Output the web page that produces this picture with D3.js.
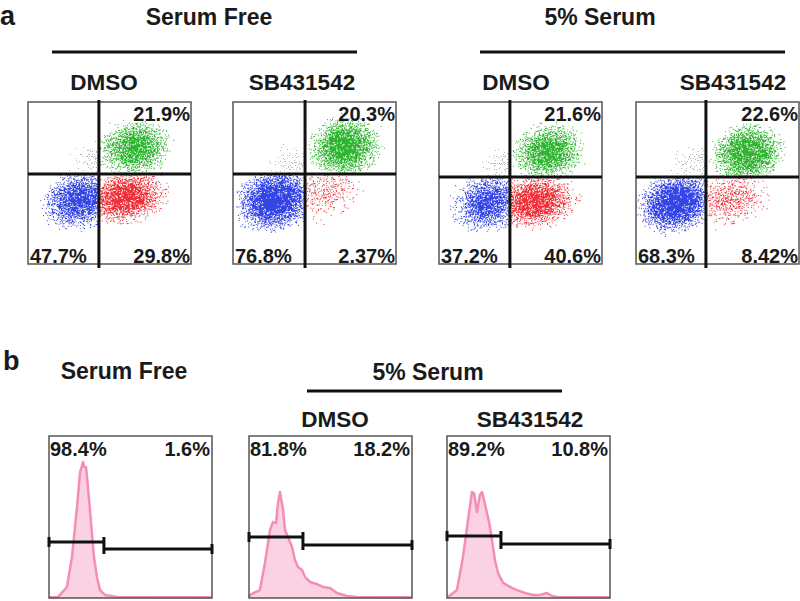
<!DOCTYPE html>
<html>
<head>
<meta charset="utf-8">
<script src="https://cdn.jsdelivr.net/npm/d3@7"></script>
<style>
  body { margin: 0; background: #fff; }
  text { font-family: "Liberation Sans", Arial, sans-serif; font-weight: bold; fill: #1a1a1a; }
</style>
</head>
<body>
<svg id="fig" width="800" height="601"></svg>
<script>
// ---- panel a: dot plots ----
const dotTitles = ["DMSO", "SB431542", "DMSO", "SB431542"];
const dotGroups = ["Serum Free", "5% Serum"];
const gateX = [435, 442, 435, 429];          // channel (0-1000)
const gateY = [556, 556, 537, 537];
const pctUR = ["21.9%", "20.3%", "21.6%", "22.6%"];
const pctLL = ["47.7%", "76.8%", "37.2%", "68.3%"];
const pctLR = ["29.8%", "2.37%", "40.6%", "8.42%"];

// populations: centre (x, y), spread (sx, sy), tilt, density
const greenPop = [
  { x: 656, y: 716, sx: 275, sy: 215, t: -12, d: 0.9 },
  { x: 687, y: 722, sx: 265, sy: 225, t: -12, d: 0.95 },
  { x: 669, y: 691, sx: 275, sy: 215, t: -12, d: 0.9 },
  { x: 687, y: 685, sx: 270, sy: 215, t: -12, d: 0.95 }
];
const bluePop = [
  { x: 319, y: 395, sx: 285, sy: 215, t: -18, d: 0.92 },
  { x: 258, y: 395, sx: 290, sy: 230, t: -18, d: 1.0 },
  { x: 301, y: 377, sx: 275, sy: 215, t: -18, d: 0.88 },
  { x: 245, y: 377, sx: 285, sy: 220, t: -18, d: 1.0 }
];
const redPop = [
  { x: 600, y: 414, sx: 310, sy: 200, t: -10, d: 0.92 },
  { x: 560, y: 440, sx: 330, sy: 230, t: -14, d: 0.62 },
  { x: 589, y: 383, sx: 310, sy: 200, t: -10, d: 0.92 },
  { x: 577, y: 405, sx: 320, sy: 220, t: -14, d: 0.68 }
];
const greyPop = [
  { x: 420, y: 640, sx: 260, sy: 180, t: 0, d: 0.55 },
  { x: 400, y: 620, sx: 260, sy: 180, t: 0, d: 0.55 },
  { x: 420, y: 620, sx: 260, sy: 180, t: 0, d: 0.55 },
  { x: 400, y: 620, sx: 260, sy: 180, t: 0, d: 0.55 }
];

// ---- panel b: histograms ----
const histTitles = ["", "DMSO", "SB431542"];
const histLeftPct = ["98.4%", "81.8%", "89.2%"];
const histRightPct = ["1.6%", "18.2%", "10.8%"];
const histGate = [337, 331, 331];
const histGateLeftY = [34.6, 37.7, 38.3];
const histGateRightY = [30.2, 32.7, 33.3];
const hist1X = [0, 55, 67, 110, 141, 172, 190, 209, 215, 227, 239, 258, 276, 294, 313, 344, 417, 1000];
const hist1Y = [0.5, 0.6, 1.9, 6.8, 25.3, 56.2, 77.2, 84, 80.9, 80.9, 68.5, 46.3, 25.3, 13, 4.9, 1.9, 0.6, 0.5];
const hist2X = [0, 6, 67, 98, 129, 147, 166, 178, 190, 209, 221, 239, 264, 282, 301, 325, 344, 374, 417, 454, 497, 540, 601, 663, 1000];
const hist2Y = [0.5, 1.9, 4.9, 21.6, 42, 46.9, 46.3, 58.6, 65.4, 54.3, 42, 37.7, 31.5, 23.5, 19.1, 17.3, 13, 9.9, 8.6, 6.8, 6.2, 3.1, 1.2, 0.6, 0.5];
const hist3X = [0, 6, 61, 98, 129, 153, 166, 184, 202, 215, 227, 245, 258, 276, 294, 313, 344, 387, 429, 479, 528, 571, 613, 644, 675, 1000];
const hist3Y = [0.5, 0.6, 4.9, 25.3, 48.1, 65.4, 64.8, 53.1, 63.6, 65.4, 60.5, 52.5, 46.9, 35.8, 23.5, 15.4, 9.3, 6.8, 4.9, 3.1, 1.9, 1.9, 3.1, 1.2, 0.6, 0.5];
const histX = [hist1X, hist2X, hist3X];
const histY = [hist1Y, hist2Y, hist3Y];

const svg = d3.select("#fig");
const defs = svg.append("defs");

const popColors = { green: "#30b530", blue: "#3546e6", red: "#ef3038", grey: "#b4baba" };

// speckle filter per colour: thresholds the population density against a noise texture
Object.entries(popColors).forEach(([k, c]) => {
  const f = defs.append("filter").attr("id", "speckle-" + k)
    .attr("x", "-10%").attr("y", "-10%").attr("width", "120%").attr("height", "120%")
    .attr("color-interpolation-filters", "sRGB");
  f.append("feTurbulence").attr("type", "fractalNoise").attr("baseFrequency", 0.85)
    .attr("numOctaves", 2).attr("seed", 7).attr("result", "noise");
  f.append("feColorMatrix").attr("in", "noise").attr("type", "matrix")
    .attr("values", "0 0 0 0 0  0 0 0 0 0  0 0 0 0 0  1 0 0 0 0").attr("result", "nA");
  f.append("feComposite").attr("in", "SourceAlpha").attr("in2", "nA").attr("operator", "arithmetic")
    .attr("k1", 0).attr("k2", 1).attr("k3", -1).attr("k4", 0.5).attr("result", "diff");
  f.append("feComponentTransfer").attr("in", "diff").attr("result", "mask")
    .append("feFuncA").attr("type", "discrete").attr("tableValues", "0 1");
  f.append("feFlood").attr("flood-color", c).attr("result", "solid");
  f.append("feComposite").attr("in", "solid").attr("in2", "mask").attr("operator", "in");

  const g = defs.append("radialGradient").attr("id", "grad-" + k);
  [[0, 0.72], [0.35, 0.63], [0.65, 0.47], [0.85, 0.33], [1, 0.15]].forEach(([o, a]) =>
    g.append("stop").attr("offset", o).attr("stop-color", "#000").attr("stop-opacity", a));
});

// title helper
function label(x, y, txt, size, anchor) {
  svg.append("text").attr("x", x).attr("y", y).attr("font-size", size)
    .attr("text-anchor", anchor || "middle").text(txt);
}

// ---- panel a layout ----
label(0, 25, "a", 27, "start");
label(209, 25, dotGroups[0], 23);
label(600, 25, dotGroups[1], 23);
svg.append("line").attr("x1", 52).attr("x2", 357).attr("y1", 52).attr("y2", 52)
  .attr("stroke", "#111").attr("stroke-width", 3);
svg.append("line").attr("x1", 480).attr("x2", 785).attr("y1", 52).attr("y2", 52)
  .attr("stroke", "#111").attr("stroke-width", 3);

const dotLeft = [28, 233, 439, 636];
const dotTitleX = [104, 302, 516, 733];
const dotTop = 102, dotW = 163, dotH = 162;

dotLeft.forEach((left, i) => {
  const x = d3.scaleLinear().domain([0, 1000]).range([left, left + dotW]);
  const y = d3.scaleLinear().domain([0, 1000]).range([dotTop + dotH, dotTop]);
  label(dotTitleX[i], 90, dotTitles[i], 22.5);

  const g = svg.append("g");
  // quadrant clip regions
  const quads = {
    grey: [0, gateX[i], gateY[i], 1000],
    green: [gateX[i], 1000, gateY[i], 1000],
    blue: [0, gateX[i], 0, gateY[i]],
    red: [gateX[i], 1000, 0, gateY[i]]
  };
  const pops = { grey: greyPop[i], green: greenPop[i], blue: bluePop[i], red: redPop[i] };
  Object.keys(quads).forEach(k => {
    const q = quads[k];
    const id = `clip-${i}-${k}`;
    defs.append("clipPath").attr("id", id).append("rect")
      .attr("x", x(q[0])).attr("width", x(q[1]) - x(q[0]))
      .attr("y", y(q[3])).attr("height", y(q[2]) - y(q[3]));
    const p = pops[k];
    const cx = x(p.x), cy = y(p.y);
    g.append("g").attr("clip-path", `url(#${id})`)
      .append("ellipse")
      .attr("cx", cx).attr("cy", cy)
      .attr("rx", x(p.sx) - x(0)).attr("ry", y(0) - y(p.sy))
      .attr("transform", `rotate(${p.t},${cx},${cy})`)
      .attr("fill", `url(#grad-${k})`)
      .attr("fill-opacity", p.d)
      .attr("filter", `url(#speckle-${k})`);
  });

  svg.append("rect").attr("x", left).attr("y", dotTop).attr("width", dotW).attr("height", dotH)
    .attr("fill", "none").attr("stroke", "#555").attr("stroke-width", 1.5);
  svg.append("line").attr("x1", x(gateX[i])).attr("x2", x(gateX[i]))
    .attr("y1", dotTop - 2).attr("y2", dotTop + dotH + 4)
    .attr("stroke", "#111").attr("stroke-width", 3);
  svg.append("line").attr("x1", left).attr("x2", left + dotW)
    .attr("y1", y(gateY[i])).attr("y2", y(gateY[i]))
    .attr("stroke", "#111").attr("stroke-width", 3);

  label(left + dotW - 1, dotTop + 19, pctUR[i], 20, "end");
  label(left + 2, dotTop + dotH - 1, pctLL[i], 20, "start");
  label(left + dotW - 1, dotTop + dotH - 1, pctLR[i], 20, "end");
});

// ---- panel b layout ----
label(3, 370, "b", 27, "start");
label(124, 379, "Serum Free", 23);
label(428, 380, "5% Serum", 23);
svg.append("line").attr("x1", 307).attr("x2", 562).attr("y1", 391).attr("y2", 391)
  .attr("stroke", "#111").attr("stroke-width", 3);

const histLeft = [49, 249, 447];
const histTitleX = [124, 335, 530];
const histTop = 436, histW = 163, histH = 162;

histLeft.forEach((left, i) => {
  const x = d3.scaleLinear().domain([0, 1000]).range([left, left + histW]);
  const y = d3.scaleLinear().domain([0, 100]).range([histTop + histH, histTop]);
  if (histTitles[i]) label(histTitleX[i], 427, histTitles[i], 22.5);

  const pts = histX[i].map((v, j) => [v, histY[i][j]]);
  const area = d3.area().x(d => x(d[0])).y0(y(0)).y1(d => y(d[1]));
  const line = d3.line().x(d => x(d[0])).y(d => y(d[1]));
  svg.append("path").datum(pts).attr("d", area).attr("fill", "#fbd2e3");
  svg.append("path").datum(pts).attr("d", line).attr("fill", "none")
    .attr("stroke", "#f58db6").attr("stroke-width", 2.5).attr("stroke-linejoin", "round");

  svg.append("rect").attr("x", left).attr("y", histTop).attr("width", histW).attr("height", histH)
    .attr("fill", "none").attr("stroke", "#555").attr("stroke-width", 1.5);

  // gate bracket
  const gx = x(histGate[i]), yl = y(histGateLeftY[i]), yr = y(histGateRightY[i]);
  const gp = d3.path();
  gp.moveTo(x(0), yl); gp.lineTo(gx, yl);
  gp.moveTo(gx, yr); gp.lineTo(x(1000), yr);
  gp.moveTo(x(0), yl - 5); gp.lineTo(x(0), yl + 5);
  gp.moveTo(x(1000), yr - 5); gp.lineTo(x(1000), yr + 5);
  gp.moveTo(gx, yl - 5); gp.lineTo(gx, yr + 5);
  svg.append("path").attr("d", gp.toString()).attr("fill", "none")
    .attr("stroke", "#111").attr("stroke-width", 3);

  label(left + 1, histTop + 20, histLeftPct[i], 20, "start");
  label(left + histW - 2, histTop + 20, histRightPct[i], 20, "end");
});
</script>
</body>
</html>
